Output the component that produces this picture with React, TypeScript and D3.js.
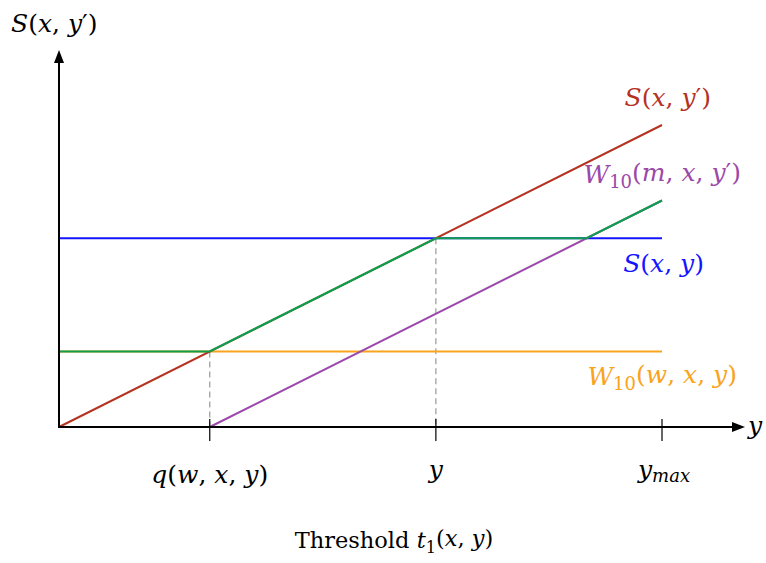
import React from "react";
import * as d3 from "d3";

// Threshold positions along the y axis
const tickKeys = ["q", "y", "ymax"];
const tickValues = [1.5, 3.75, 6];

// Curves as [y, value] pairs
const sXYPrime: [number, number][] = [[0, 0], [6, 3]];
const sXY: [number, number][] = [[0, 1.875], [6, 1.875]];
const w10wxy: [number, number][] = [[0, 0.75], [6, 0.75]];
const w10mxyPrime: [number, number][] = [[1.5, 0], [6, 2.25]];
const threshold: [number, number][] = [[0, 0.75], [1.5, 0.75], [3.75, 1.875], [5.25, 1.875], [6, 2.25]];

const W = 766, H = 563;
const x = d3.scaleLinear().domain([0, 6]).range([59, 662]);
const y = d3.scaleLinear().domain([0, 3]).range([427, 125]);
const line = d3.line<[number, number]>().x(d => x(d[0])).y(d => y(d[1]));

const FONT = "'DejaVu Serif', 'Liberation Serif', serif";
const RED = "#b5321f", BLUE = "#1414ff", ORANGE = "#f8a41c", GREEN = "#0f9e4c", PURPLE = "#9b49a8";

const It = (p: any) => <tspan fontStyle="italic" {...p} />;
const Sub = ({ children }: any) => (
  <tspan fontSize="0.72em" dy="0.28em">{children}</tspan>
);
const C = () => <tspan>, </tspan>;

export default function App() {
  const x0 = x(0), yAxis = y(0);
  const yTop = 50, xRight = 745;
  const fs = 25;
  return (
    <svg width={W} height={H} style={{ position: "absolute", left: 0, top: 0, background: "#fff" }}
      fontFamily={FONT}>
      {/* dashed guides from the breakpoints down to the axis */}
      <line x1={x(tickValues[0])} x2={x(tickValues[0])} y1={y(0.75)} y2={yAxis}
        stroke="#999" strokeWidth={1.2} strokeDasharray="6,4" />
      <line x1={x(tickValues[1])} x2={x(tickValues[1])} y1={y(1.875)} y2={yAxis}
        stroke="#999" strokeWidth={1.2} strokeDasharray="6,4" />

      <path d={line(w10wxy)!} stroke={ORANGE} strokeWidth={2} fill="none" />
      <path d={line(sXY)!} stroke={BLUE} strokeWidth={2} fill="none" />
      <path d={line(sXYPrime)!} stroke={RED} strokeWidth={2} fill="none" />
      <path d={line(w10mxyPrime)!} stroke={PURPLE} strokeWidth={2} fill="none" />
      <path d={line(threshold)!} stroke={GREEN} strokeWidth={2.2} fill="none" />

      {/* axes */}
      <line x1={x0} x2={x0} y1={yAxis + 1} y2={yTop + 8} stroke="#000" strokeWidth={2} />
      <path d={`M${x0},${yTop} L${x0 - 5},${yTop + 13} L${x0 + 5},${yTop + 13} Z`} fill="#000" />
      <line x1={x0 - 1} x2={xRight - 8} y1={yAxis} y2={yAxis} stroke="#000" strokeWidth={2} />
      <path d={`M${xRight},${yAxis} L${xRight - 13},${yAxis - 5} L${xRight - 13},${yAxis + 5} Z`} fill="#000" />

      {tickValues.map((v, i) => (
        <line key={tickKeys[i]} x1={x(v)} x2={x(v)} y1={yAxis - 8} y2={yAxis + 14} stroke="#000" strokeWidth={1.2} />
      ))}

      {/* tick labels */}
      <text x={x(tickValues[0])} y={483} fontSize={fs} textAnchor="middle">
        <It>q</It>(<It>w</It><C /><It>x</It><C /><It>y</It>)
      </text>
      <text x={x(tickValues[1])} y={478} fontSize={fs} textAnchor="middle"><It>y</It></text>
      <text x={x(tickValues[2]) + 2} y={478} fontSize={fs} textAnchor="middle">
        <It>y</It><tspan fontStyle="italic" fontSize="0.72em" dy="0.2em">max</tspan>
      </text>

      {/* axis titles */}
      <text x={11} y={32} fontSize={fs}>
        <It>S</It>(<It>x</It><C /><It>y</It>′)
      </text>
      <text x={748} y={434} fontSize={fs}><It>y</It></text>
      <text x={394} y={548} fontSize={22.5} textAnchor="middle">
        Threshold <It>t</It><Sub>1</Sub><tspan dy="-0.28em">(</tspan><It>x</It><C /><It>y</It>)
      </text>

      {/* series labels */}
      <text x={711} y={106} fontSize={fs} textAnchor="end" fill={RED}>
        <It>S</It>(<It>x</It><C /><It>y</It>′)
      </text>
      <text x={741} y={183} fontSize={fs} textAnchor="end" fill={PURPLE}>
        <It>W</It><Sub>10</Sub><tspan dy="-0.28em">(</tspan><It>m</It><C /><It>x</It><C /><It>y</It>′)
      </text>
      <text x={704} y={272} fontSize={fs} textAnchor="end" fill={BLUE}>
        <It>S</It>(<It>x</It><C /><It>y</It>)
      </text>
      <text x={737} y={385} fontSize={fs} textAnchor="end" fill={ORANGE}>
        <It>W</It><Sub>10</Sub><tspan dy="-0.28em">(</tspan><It>w</It><C /><It>x</It><C /><It>y</It>)
      </text>
    </svg>
  );
}
